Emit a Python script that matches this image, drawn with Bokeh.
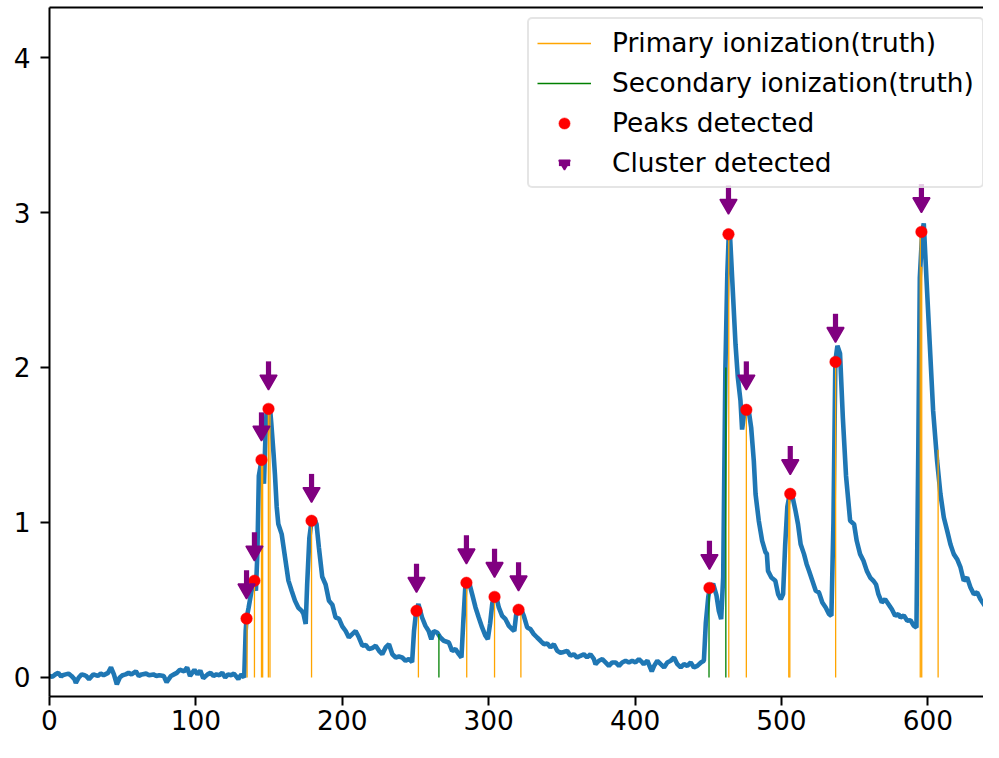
import math
from bokeh.plotting import figure
from bokeh.models import Range1d, FixedTicker, LinearAxis, Legend, LegendItem
from bokeh.embed import file_html
from bokeh.resources import INLINE

# ---- waveform ----
wave_x = [0, 2, 4, 6, 8, 9, 11, 13, 15, 17, 18, 20, 22, 24, 25, 27, 29, 30, 33, 35,
          37, 38, 40, 42, 44, 46, 48, 50, 52, 54, 56, 59, 61, 63, 66, 68, 71, 73, 75, 78,
          80, 83, 85, 87, 89, 92, 94, 96, 99, 101, 103, 105, 108, 110, 112, 114, 116, 118, 120, 122,
          124, 126, 129, 131, 133,
          134, 134.6, 136, 138.4, 139.6, 141, 142, 143, 144.8, 145.9, 146.5, 147.5, 148.2, 149.7, 150.5,
          151.5, 153, 154, 155.2, 156.3, 158.6, 160.9, 163.2, 165.4, 167.7, 170, 172.3, 173.5, 175, 176,
          177.5, 179, 180.6, 182.4, 184, 186.3, 188.6, 190.9, 193.2, 195.4, 197.7, 200, 202.3, 204.5, 206.8,
          209.1, 211.4, 213.7, 216, 218.2, 220.5, 222.8, 225.1, 227.3, 229.6, 231.9, 234.2, 236.5, 238.7, 240.9,
          243.2, 245.5, 247.7, 249, 250.5, 252,
          254.5, 256.8, 259, 260.8, 262.5, 264.8, 267, 269.3, 272.8, 275, 277.3, 279.6, 281.4, 282.6, 284,
          284.8, 286.4, 288.7, 291, 293.2, 295.5, 297.8, 299.4, 301, 302.5, 304.2, 305, 306.9, 309.2, 311.5,
          313.8, 316, 317.5, 318.7, 319.9, 321.7, 324, 326.3, 328.5, 330.8, 333.1, 335.4, 337.7, 340, 342.2,
          344.5, 346.8, 349, 351.3, 353.6, 355.9, 358.1, 360.4, 362.7, 365, 367.2, 369.5, 371.8, 373, 375.3,
          377.6, 379.8, 382.1, 384.4, 386.7, 389, 391.2, 393.5, 395.8, 398, 400.3, 402.6, 404.9, 405.9, 408.4,
          411.4, 413, 415.2, 417.5, 419.8, 422, 424.3, 426.6, 428.9, 431.2, 433.4, 435.7, 438, 440.2, 442.5,
          445, 447,
          448.3, 450, 451, 453.3, 455.6, 457.2, 458.8, 460.2, 461.7, 463, 464, 464.7, 466.3, 468.6, 470.2,
          472, 473.1, 474.5, 476.6, 477.5, 479.3, 481.1, 482.3, 484.5, 486.8, 489.1, 490, 490.8, 493.1, 495.8,
          497.7, 499.5, 501.1, 502.5, 504, 505.7, 507, 509.6, 511.3, 513.1, 515.4, 517.2, 518.8, 521.1, 523.4,
          525.6, 527.9, 530.2, 532.5, 534.1, 535.5, 536.8, 538.2, 540, 541.9, 544.1, 546.9, 549.6, 551.4, 553.7,
          556, 558.3, 560.6, 562.8, 564.6, 566.2, 568.5, 570.8, 573.1, 575.4, 577.6, 579.9,
          581.3, 583.6, 585.9, 588.1, 590.4, 592.2, 593.5, 594.5, 596.1, 597.2, 599, 601.3, 603.6, 606.3, 608.6,
          610.9, 613.2, 615.4, 617.7, 620, 622.3, 624.5, 626.8, 629.1, 631.4, 633.7, 635.9, 638.2, 640.5, 642.8,
          645.1, 647.3, 649]
wave_y = [0.01, 0.005, 0.02, 0.03, 0.005, 0.015, 0.02, 0.025, 0.01, -0.01, -0.035, 0.0, 0.02, 0.015, 0.01, -0.01, 0.01, 0.02, 0.01, 0.025,
          0.015, 0.02, 0.03, 0.065, 0.02, -0.045, 0.0, 0.015, 0.02, 0.03, 0.02, 0.04, 0.01, 0.02, 0.025, 0.015, 0.02, 0.01, 0.015, 0.01,
          -0.03, 0.01, 0.02, 0.03, 0.05, 0.04, 0.065, 0.01, 0.05, 0.02, 0.045, -0.005, 0.02, 0.03, 0.01, 0.02, 0.015, 0.03, 0.0, 0.02,
          0.015, 0.025, -0.01, 0.02, 0.0,
          0.3, 0.38, 0.45, 0.58, 0.62, 0.56, 0.8, 1.30, 1.40, 1.31, 1.25, 1.55, 1.70, 1.73, 1.75,
          1.64, 1.45, 1.31, 1.10, 0.99, 0.925, 0.775, 0.625, 0.56, 0.495, 0.45, 0.43, 0.41, 0.345, 0.6,
          0.9, 1.01, 1.03, 0.99, 0.84, 0.65, 0.60, 0.495, 0.47, 0.387, 0.38, 0.33, 0.30, 0.258, 0.28,
          0.30, 0.258, 0.205, 0.21, 0.183, 0.19, 0.205, 0.172, 0.15, 0.194, 0.215, 0.15, 0.129, 0.135, 0.129,
          0.108, 0.12, 0.1, 0.3, 0.43, 0.474,
          0.387, 0.333, 0.30, 0.247, 0.30, 0.29, 0.258, 0.237, 0.226, 0.172, 0.183, 0.151, 0.129, 0.35, 0.58,
          0.613, 0.622, 0.538, 0.452, 0.387, 0.323, 0.269, 0.247, 0.35, 0.48, 0.523, 0.53, 0.452, 0.398, 0.376,
          0.333, 0.312, 0.30, 0.40, 0.437, 0.45, 0.398, 0.323, 0.312, 0.28, 0.258, 0.237, 0.215, 0.22, 0.194,
          0.215, 0.172, 0.16, 0.165, 0.172, 0.14, 0.15, 0.129, 0.14, 0.15, 0.13, 0.15, 0.12, 0.086, 0.108,
          0.118, 0.097, 0.075, 0.097, 0.097, 0.075, 0.097, 0.108, 0.097, 0.108, 0.097, 0.118, 0.097, 0.086, 0.108,
          0.04, 0.075, 0.108, 0.086, 0.065, 0.097, 0.108, 0.129, 0.086, 0.065, 0.086, 0.075, 0.097, 0.065, 0.075,
          0.097, 0.108,
          0.35, 0.52, 0.574, 0.605, 0.53, 0.43, 0.376, 0.65, 2.0, 2.6, 2.86, 2.88, 2.58, 2.15, 1.935,
          1.785, 1.60, 1.70, 1.727, 1.73, 1.613, 1.398, 1.183, 1.011, 0.882, 0.807, 0.80, 0.688, 0.645, 0.624,
          0.538, 0.505, 0.538, 0.85, 1.10, 1.187, 1.19, 1.075, 0.989, 0.86, 0.796, 0.731, 0.688, 0.624, 0.56,
          0.549, 0.484, 0.452, 0.409, 0.398, 1.0, 2.04, 2.14, 2.09, 1.68, 1.30, 1.011, 0.989, 0.882, 0.796,
          0.753, 0.688, 0.645, 0.624, 0.60, 0.538, 0.484, 0.505, 0.473, 0.44, 0.398, 0.409,
          0.387, 0.40, 0.366, 0.37, 0.333, 0.323, 1.5, 2.58, 2.871, 2.93, 2.58, 2.15, 1.72, 1.398, 1.183,
          1.032, 0.946, 0.86, 0.796, 0.763, 0.710, 0.624, 0.645, 0.581, 0.538, 0.549, 0.505, 0.473, 0.44, 0.452,
          0.44, 0.452, 0.398]

# ---- truth ionization lines ----
primary_x = [135, 140, 144.8, 145.6, 149.5, 150.6, 179, 252, 285, 304, 322, 464, 476, 505, 505.7, 537, 594.8, 595.8, 607]
primary_h = [0.38, 0.62, 1.40, 1.38, 1.73, 1.70, 1.0, 0.43, 0.61, 0.52, 0.44, 2.87, 1.73, 1.19, 1.15, 2.04, 2.88, 2.65, 1.47]
secondary_x = [266, 450.5, 462]
secondary_h = [0.28, 0.57, 2.0]

# ---- detections ----
peak_x = [134.6, 140, 144.8, 149.6, 179, 250.7, 284.8, 304, 320.4, 450.8, 463.8, 476, 506, 536.9, 595.6]
peak_y = [0.38, 0.624, 1.404, 1.733, 1.011, 0.43, 0.611, 0.52, 0.437, 0.578, 2.86, 1.727, 1.185, 2.036, 2.875]
cluster_x = [134.6, 140, 144.8, 149.6, 179, 250.7, 284.8, 304, 320.4, 450.8, 463.8, 476, 506, 536.9, 595.6]
cluster_y = [0.598, 0.843, 1.617, 1.946, 1.22, 0.64, 0.824, 0.737, 0.65, 0.788, 3.08, 1.946, 1.40, 2.253, 3.09]

x_ticks = [0, 100, 200, 300, 400, 500, 600]
y_ticks = [0, 1, 2, 3, 4]

FONT = "DejaVu Sans"
FS = "26.4px"

p = figure(width=983, height=742, output_backend="svg", toolbar_location=None,
           x_range=Range1d(0, 638.0), y_range=Range1d(-0.1226, 4.3226),
           min_border_left=49, min_border_right=0, min_border_top=7, min_border_bottom=46)
p.outline_line_color = None
p.xgrid.visible = False
p.ygrid.visible = False
p.background_fill_color = "white"
p.border_fill_color = "white"

for ax, ticks in ((p.xaxis[0], x_ticks), (p.yaxis[0], y_ticks)):
    ax.ticker = FixedTicker(ticks=ticks)
    ax.axis_line_width = 2
    ax.axis_line_color = "black"
    ax.major_tick_line_width = 2
    ax.major_tick_line_color = "black"
    ax.major_tick_out = 9
    ax.major_tick_in = 0
    ax.minor_tick_out = 0
    ax.minor_tick_in = 0
    ax.major_label_text_font = FONT
    ax.major_label_text_font_size = FS
    ax.major_label_text_color = "black"
p.xaxis[0].major_label_standoff = 4
p.yaxis[0].major_label_standoff = 10

top = LinearAxis(ticker=FixedTicker(ticks=[]), axis_line_width=2, axis_line_color="black",
                 major_tick_out=0, major_tick_in=0, minor_tick_out=0, minor_tick_in=0,
                 major_label_standoff=0)
p.add_layout(top, "above")

wave = p.line(wave_x, wave_y, line_color="#1f77b4", line_width=4.6)

prim = p.segment(x0=primary_x, y0=[0] * len(primary_x), x1=primary_x, y1=primary_h,
                 line_color="orange", line_width=1.3)
sec = p.segment(x0=secondary_x, y0=[0] * len(secondary_x), x1=secondary_x, y1=secondary_h,
                line_color="green", line_width=1.3)

peaks = p.scatter(peak_x, peak_y, marker="circle", size=11.5, fill_color="red", line_color="red", line_width=0.5)

px_per_unit = 155.0
head_y = [v - 4.2 / px_per_unit for v in cluster_y]
stem_y = [v + 7.0 / px_per_unit for v in cluster_y]
stem = p.scatter(cluster_x, stem_y, marker="dash", angle=math.pi / 2, size=15,
                 line_color="purple", line_width=5.2)
head = p.scatter(cluster_x, head_y, marker="inverted_triangle", size=17,
                 fill_color="purple", line_color="purple", line_width=1.5)

legend = Legend(items=[
    LegendItem(label="Primary ionization(truth)", renderers=[prim]),
    LegendItem(label="Secondary ionization(truth)", renderers=[sec]),
    LegendItem(label="Peaks detected", renderers=[peaks]),
    LegendItem(label="Cluster detected", renderers=[stem, head]),
], location=(478, 508))
legend.label_text_font = FONT
legend.label_text_font_size = FS
legend.label_text_color = "black"
legend.glyph_width = 54
legend.glyph_height = 28
legend.label_height = 28
legend.spacing = 9
legend.padding = 8
legend.label_standoff = 21
legend.margin = 0
legend.border_line_color = "#cccccc"
legend.border_line_width = 2
legend.background_fill_alpha = 0.8
if "border_radius" in Legend.properties():
    legend.border_radius = 5
p.add_layout(legend)

open("out.html", "w").write(file_html(p, INLINE))
